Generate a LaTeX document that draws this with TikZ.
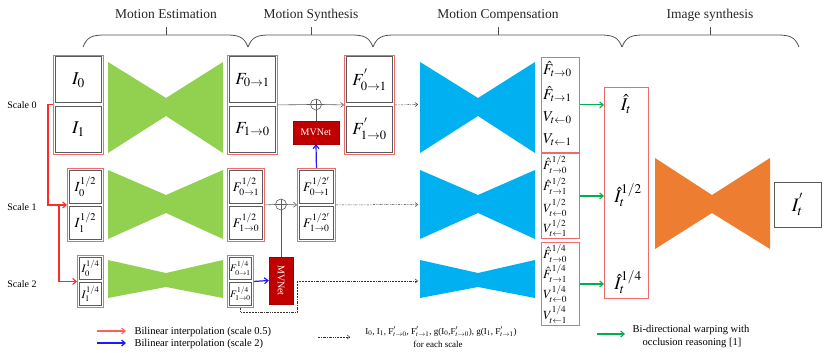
\documentclass[tikz,border=0pt]{standalone}
\usepackage{mathptmx}
\usepackage{fontspec}
\setmainfont{Liberation Serif}
\usepackage{graphicx}
\usetikzlibrary{arrows.meta}
\definecolor{boxred}{HTML}{F06A6A}
\definecolor{gframe}{HTML}{5A5A5A}
\definecolor{gbow}{HTML}{92D050}
\definecolor{bbow}{HTML}{00B0F0}
\definecolor{obow}{HTML}{ED7D31}
\definecolor{mvred}{HTML}{C00000}
\definecolor{arrred}{HTML}{FF2A2A}
\definecolor{arrblue}{HTML}{1A1AFF}
\definecolor{arrgreen}{HTML}{00B050}
\definecolor{brc}{HTML}{505050}
\newcommand{\pairbox}[8]{%
 \node[redbox,anchor=north west,minimum width=#4,minimum height=#5] (#1) at (#2,#3) {};
 \node[graybox,anchor=north west,minimum width={#4-4},minimum height={(#5-7)/2},font=#8] (#1a) at ({#2+2},{#3+1.5}) {#6};
 \node[graybox,anchor=south west,minimum width={#4-4},minimum height={(#5-7)/2},font=#8] (#1b) at ({#2+2},{#3+#5-1.5}) {#7};
}
\newcommand{\topbrace}[3]{%
 \draw[brace] (#1,47) .. controls ({#1+4},37) and ({#1+9},35) .. ({#1+22},35) -- ({#3-22},35) .. controls ({#3-9},35) and ({#3-4},37) .. (#3,47);
 \draw[brace] (#2,35) -- (#2,27);
}
\begin{document}
\begin{tikzpicture}[x=1pt,y=-1pt,
 redbox/.style={draw=boxred,line width=0.9pt,inner sep=0pt},
 graybox/.style={draw=gframe,line width=0.9pt,inner sep=0pt,fill=white},
 mvbox/.style={fill=mvred,draw=mvred!85!black,text=white,font=\fontsize{10}{12}\selectfont,inner sep=0pt},
 conn/.style={draw=gframe,line width=0.6pt},
 tip/.style={-{Straight Barb[length=3pt,width=5pt]}},
 dotarrow/.style={draw=black!80,line width=0.5pt,dash pattern=on 2pt off 1pt on 0.6pt off 1pt on 0.6pt off 1pt,-{Straight Barb[length=2.5pt,width=4pt]}},
 redarr/.style={draw=arrred,line width=1.1pt,-{Straight Barb[length=3.5pt,width=6pt]}},
 bluearr/.style={draw=arrblue,line width=1.2pt,-{Straight Barb[length=3.5pt,width=6pt]}},
 greenarr/.style={draw=arrgreen,line width=1.1pt,-{Straight Barb[length=3.5pt,width=6pt]}},
 oplus/.style={circle,draw=gframe,line width=0.6pt,minimum size=11pt,inner sep=0pt,
   path picture={\draw[gframe,line width=0.6pt] (path picture bounding box.north) -- (path picture bounding box.south) (path picture bounding box.west) -- (path picture bounding box.east);}},
 heading/.style={font=\fontsize{13.5}{15}\selectfont,text=black!85,anchor=base},
 brace/.style={draw=brc,line width=0.8pt},
 lbl/.style={font=\fontsize{10}{12}\selectfont,anchor=base},
 legend/.style={font=\fontsize{10.5}{12}\selectfont,anchor=base west},
 legendc/.style={font=\fontsize{10.5}{12}\selectfont,anchor=base},
 stkA/.style={font=\fontsize{15}{17}\selectfont,anchor=west,inner sep=0pt},
 stkB/.style={font=\fontsize{12.5}{14}\selectfont,anchor=west,inner sep=0pt},
 big/.style={font=\fontsize{18}{20}\selectfont,inner sep=0pt}
]
\useasboundingbox (0,0) rectangle (831,353);

% headings and braces
\node[heading] (h1) at (166,19) {Motion Estimation};
\node[heading] (h2) at (311,19) {Motion Synthesis};
\node[heading] (h3) at (498,19) {Motion Compensation};
\node[heading] (h4) at (710,19) {Image synthesis};
\topbrace{83}{166}{248}
\topbrace{248}{311}{373}
\topbrace{373}{498}{622}
\topbrace{622}{710}{799}

% scale labels
\node[lbl] (sc0) at (22,109) {Scale 0};
\node[lbl] (sc1) at (22,210) {Scale 1};
\node[lbl] (sc2) at (22,287) {Scale 2};

% bowties
\fill[gbow] (108,62)--(166,98)--(223,62)--(223,153)--(166,116)--(108,153)--cycle;
\fill[gbow] (108,170)--(166,195)--(223,170)--(223,239)--(166,213)--(108,239)--cycle;
\fill[gbow] (108,260)--(166,273)--(223,260)--(223,298)--(166,287)--(108,298)--cycle;
\fill[bbow] (420,62)--(478,98)--(535,62)--(535,153)--(478,116)--(420,153)--cycle;
\fill[bbow] (420,170)--(478,195)--(535,170)--(535,239)--(478,213)--(420,239)--cycle;
\fill[bbow] (420,260)--(478,273)--(535,260)--(535,298)--(478,287)--(420,298)--cycle;
\fill[obow] (655,158)--(712,195)--(770,158)--(770,249)--(712,213)--(655,249)--cycle;

% paired boxes
\pairbox{in0}{53}{55}{50}{99}{$I_0$}{$I_1$}{\fontsize{18}{20}\selectfont}
\pairbox{f0}{227}{55}{50}{99}{$F_{0\to1}$}{$F_{1\to0}$}{\fontsize{17}{19}\selectfont}
\pairbox{f0p}{344}{55}{50}{99}{$F^{'}_{0\to1}$}{$F^{'}_{1\to0}$}{\fontsize{17}{19}\selectfont}
\pairbox{in1}{67}{168}{36}{73}{$I_0^{1/2}$}{$I_1^{1/2}$}{\fontsize{14}{16}\selectfont}
\pairbox{f1}{227}{168}{37}{73}{$F^{1/2}_{0\to1}$}{$F^{1/2}_{1\to0}$}{\fontsize{13}{15}\selectfont}
\pairbox{f1p}{297}{168}{38}{73}{$F^{1/2'}_{0\to1}$}{$F^{1/2'}_{1\to0}$}{\fontsize{13}{15}\selectfont}
\pairbox{in2}{77}{255}{26}{52}{$I_0^{1/4}$}{$I_1^{1/4}$}{\fontsize{11.5}{13}\selectfont}
\pairbox{f2}{227}{255}{26}{52}{$F^{1/4}_{0\to1}$}{$F^{1/4}_{1\to0}$}{\fontsize{10}{11}\selectfont}

% MVNet blocks and sums
\node[mvbox,minimum width=46,minimum height=23] (mv0) at (316,132.5) {MVNet};
\node[mvbox,minimum width=24,minimum height=47] (mv2) at (281,280.5) {\rotatebox{-90}{MVNet}};
\node[oplus] (c0) at (316,104.5) {};
\node[oplus] (c1) at (281,204.5) {};

% stacks
\node[redbox,anchor=north west,minimum width=38,minimum height=95] (st0) at (541,57) {};
\node[stkA] (s0a) at (543,69) {$\hat F_{t\to0}$};
\node[stkA] (s0b) at (543,94) {$\hat F_{t\to1}$};
\node[stkA] (s0c) at (543,118) {$V_{t\leftarrow0}$};
\node[stkA] (s0d) at (543,140) {$V_{t\leftarrow1}$};
\node[redbox,anchor=north west,minimum width=38,minimum height=85] (st1) at (541,153) {};
\node[stkB] (s1a) at (543,164.5) {$\hat F^{1/2}_{t\to0}$};
\node[stkB] (s1b) at (543,186) {$\hat F^{1/2}_{t\to1}$};
\node[stkB] (s1c) at (543,207.5) {$V^{1/2}_{t\leftarrow0}$};
\node[stkB] (s1d) at (543,228) {$V^{1/2}_{t\leftarrow1}$};
\node[redbox,anchor=north west,minimum width=38,minimum height=83] (st2) at (541,242) {};
\node[stkB] (s2a) at (543,253.5) {$\hat F^{1/4}_{t\to0}$};
\node[stkB] (s2b) at (543,273.5) {$\hat F^{1/4}_{t\to1}$};
\node[stkB] (s2c) at (543,294) {$V^{1/4}_{t\leftarrow0}$};
\node[stkB] (s2d) at (543,314.5) {$V^{1/4}_{t\leftarrow1}$};

% synthesized images
\node[redbox,anchor=north west,minimum width=44,minimum height=211] (ihat) at (604,87) {};
\node[big] (ih0) at (626,104) {$\hat I_t$};
\node[big] (ih1) at (628,195) {$\hat I_t^{1/2}$};
\node[big] (ih2) at (628,282) {$\hat I_t^{1/4}$};
\node[graybox,minimum width=47,minimum height=45,font=\fontsize{19}{21}\selectfont] (outp) at (797.5,204.5) {$I^{'}_t$};

% coordinates
\coordinate (bt0) at (418,104.5);
\coordinate (bt1) at (418,204.5);
\coordinate (bt2) at (418,281);
\coordinate (bend2) at (297,281);
\coordinate (br) at (59,204.5);

% connectors
\draw[conn] (f0.east) -- (c0.west);
\draw[conn,tip] (c0.east) -- (f0p.west);
\draw[conn] (mv0.north) -- (c0.south);
\draw[conn] (f1.east) -- (c1.west);
\draw[conn,tip] (c1.east) -- (f1p.west);
\draw[conn] (c1.south) -- (mv2.north);
\draw[bluearr] (f1p.north) -- (mv0.south);
\draw[bluearr] (f2.east) -- (mv2.west);
\draw[redarr] (in0.west) -- ++(-5,0) |- (in1.west);
\draw[redarr] (br) |- (in2.west);
\draw[dotarrow] (f0p.east) -- (bt0);
\draw[dotarrow] (f1p.east) -- (bt1);
\draw[dotarrow] (f2.south) -- ++(0,4) -| (bend2) -- (bt2);
\draw[greenarr] (st0.east) -- (st0.east -| ihat.west);
\draw[greenarr] (st1.east) -- (st1.east -| ihat.west);
\draw[greenarr] (st2.east) -- (st2.east -| ihat.west);

% legend
\coordinate (lr1) at (97,331); \coordinate (lr2) at (126,331);
\coordinate (lb1) at (97,343); \coordinate (lb2) at (126,343);
\coordinate (ld1) at (318,337); \coordinate (ld2) at (350,337);
\coordinate (lg1) at (597,334); \coordinate (lg2) at (625,334);
\draw[redarr,draw=arrred!75] (lr1) -- (lr2);
\draw[bluearr] (lb1) -- (lb2);
\draw[dotarrow] (ld1) -- (ld2);
\draw[greenarr] (lg1) -- (lg2);
\node[legend] (lt1) at (131,334) {Bilinear interpolation (scale 0.5)};
\node[legend] (lt2) at (131,346) {Bilinear interpolation (scale 2)};
\node[font=\fontsize{9}{10}\selectfont,anchor=base] (lt3) at (441,334) {I$_0$, I$_1$, F$'_{t\to0}$, F$'_{t\to1}$, g(I$_0$,F$'_{t\to0}$), g(I$_1$, F$'_{t\to1}$)};
\node[font=\fontsize{9}{10}\selectfont,anchor=base] (lt4) at (438,347) {for each scale};
\node[legendc] (lt5) at (691,332) {Bi-directional warping with};
\node[legendc] (lt6) at (692,345) {occlusion reasoning [1]};
\end{tikzpicture}
\end{document}
